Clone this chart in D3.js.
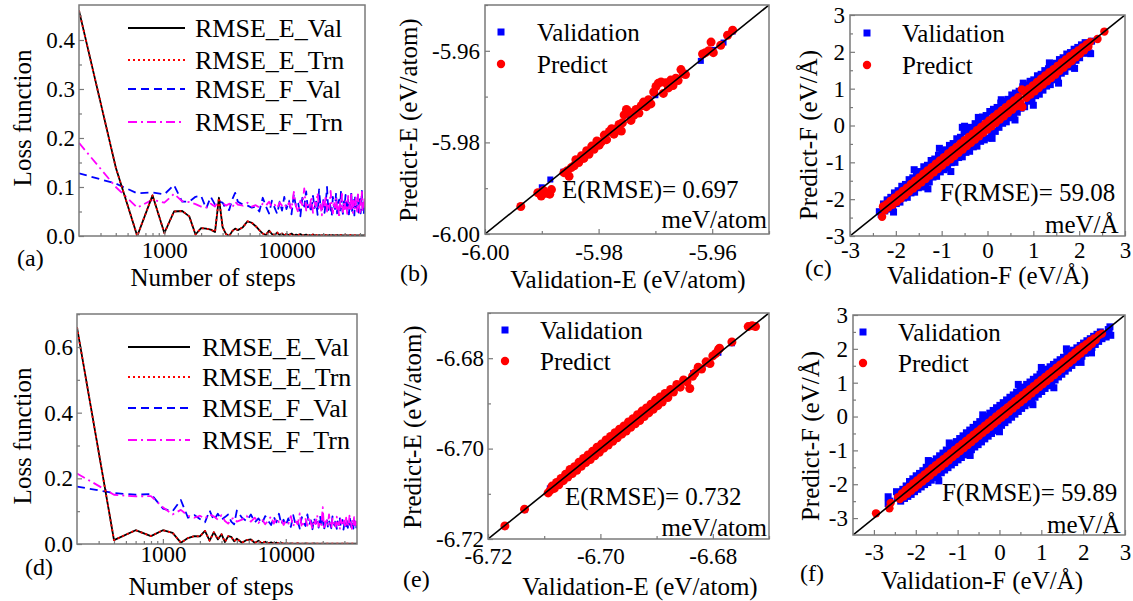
<!DOCTYPE html>
<html><head><meta charset="utf-8">
<script src="https://cdn.jsdelivr.net/npm/d3@7"></script>
<style>
body{margin:0;background:#fff}
svg text{font-family:"Liberation Serif","Times New Roman",serif;fill:#000}
</style>
</head><body>
<svg id="fig" width="1133" height="601"></svg>
<script>
// ---------- training history (loss vs. step) ----------
const steps = [200,400,600,800,1000,1200,1400,1600,1800,2000,
  2200,2400,2600,2800,3000,3200,3400,3600,3800,4000,
  4400,4800,5200,5600,6000,6400,6800,7200,7600,8000,
  8400,8800,9200,9600,10000,
  10500,11000,11500,12000,12500,13000,13500,14000,14500,15000,
  15500,16000,16500,17000,17500,18000,18500,19000,19500,20000,
  20500,21000,21500,22000,22500,23000,23500,24000,24500,25000,
  25500,26000,26500,27000,27500,28000,28500,29000,29500,30000,
  30500,31000,31500,32000,32500,33000,33500,34000,34500,35000,
  35500,36000,36500,37000,37500,38000,
  38500,39000,39500,40000,40500,41000,41500,42000,42500,43000,43500,44000];

const eValA = [0.460,0.140,0.000,0.083,0.006,0.050,0.051,0.040,0.003,0.016,
  0.015,0.013,0.008,0.078,0.018,0.004,0.000,0.010,0.015,0.012,
  0.018,0.030,0.027,0.020,0.012,0.005,0.002,0.011,0.004,0.002,
  0.007,0.002,0.005,0.001,0.004,
  0.002,0.005,0.001,0.003,0.002,0.004,0.001,0.002,0.003,0.001,
  0.002,0.001,0.003,0.001,0.002,0.001,0.002,0.001,0.001,0.002,
  0.001,0.002,0.001,0.001,0.002,0.001,0.001,0.002,0.001,0.001,
  0.001,0.002,0.001,0.001,0.001,0.002,0.001,0.001,0.001,0.001,
  0.002,0.001,0.001,0.001,0.001,0.001,0.002,0.001,0.001,0.001,
  0.001,0.001,0.001,0.001,0.001,0.001,0.001,0.001,0.001,0.001,
  0.001,0.001,0.001,0.001,0.001,0.001,0.001,0.001];
const eTrnA = [0.460,0.140,0.000,0.083,0.006,0.050,0.051,0.040,0.003,0.016,
  0.015,0.013,0.008,0.078,0.018,0.004,0.000,0.010,0.015,0.012,
  0.018,0.030,0.027,0.020,0.012,0.005,0.002,0.011,0.004,0.002,
  0.007,0.002,0.005,0.001,0.004,
  0.002,0.005,0.001,0.003,0.002,0.004,0.001,0.002,0.003,0.001,
  0.002,0.001,0.003,0.001,0.002,0.001,0.002,0.001,0.001,0.002,
  0.001,0.002,0.001,0.001,0.002,0.001,0.001,0.002,0.001,0.001,
  0.001,0.002,0.001,0.001,0.001,0.002,0.001,0.001,0.001,0.001,
  0.002,0.001,0.001,0.001,0.001,0.001,0.002,0.001,0.001,0.001,
  0.001,0.001,0.001,0.001,0.001,0.001,0.001,0.001,0.001,0.001,
  0.001,0.001,0.001,0.001,0.001,0.001,0.001,0.001];
const fValA = [0.128,0.107,0.087,0.089,0.085,0.104,0.070,0.070,0.080,0.082,
  0.056,0.080,0.064,0.070,0.068,0.055,0.053,0.075,0.088,0.070,
  0.064,0.062,0.058,0.060,0.050,0.078,0.060,0.046,0.072,0.058,
  0.045,0.070,0.052,0.080,0.055,
  0.072,0.044,0.085,0.058,0.066,0.040,0.078,0.060,0.091,0.052,
  0.063,0.048,0.082,0.057,0.070,0.043,0.095,0.061,0.054,0.076,
  0.047,0.068,0.100,0.050,0.072,0.058,0.041,0.080,0.062,0.055,
  0.088,0.046,0.066,0.074,0.052,0.093,0.058,0.045,0.070,0.063,
  0.084,0.049,0.061,0.078,0.044,0.067,0.057,0.090,0.051,0.064,
  0.073,0.042,0.081,0.059,0.068,0.053,0.087,0.048,0.066,0.075,
  0.046,0.062,0.092,0.055,0.070,0.044,0.064,0.058];
const fTrnA = [0.190,0.100,0.058,0.074,0.068,0.086,0.071,0.069,0.065,0.060,
  0.058,0.066,0.060,0.073,0.068,0.062,0.066,0.058,0.070,0.064,
  0.062,0.068,0.060,0.063,0.058,0.066,0.062,0.070,0.060,0.064,
  0.057,0.068,0.062,0.066,0.058,
  0.068,0.055,0.090,0.060,0.048,0.072,0.063,0.097,0.052,0.066,
  0.058,0.080,0.047,0.069,0.061,0.088,0.054,0.064,0.042,0.075,
  0.059,0.083,0.050,0.067,0.056,0.092,0.061,0.046,0.071,0.058,
  0.079,0.052,0.065,0.037,0.070,0.060,0.086,0.049,0.068,0.055,
  0.074,0.061,0.045,0.082,0.057,0.066,0.051,0.089,0.059,0.047,
  0.072,0.063,0.054,0.078,0.060,0.050,0.085,0.058,0.066,0.044,
  0.073,0.061,0.090,0.053,0.068,0.057,0.075,0.062];

const eValD = [0.660,0.012,0.042,0.024,0.042,0.034,0.004,0.018,0.024,0.023,
  0.040,0.010,0.036,0.014,0.030,0.006,0.024,0.022,0.008,0.016,
  0.004,0.012,0.014,0.003,0.010,0.002,0.007,0.002,0.005,0.001,
  0.004,0.001,0.003,0.001,0.002,
  0.001,0.002,0.001,0.001,0.002,0.001,0.001,0.001,0.002,0.001,
  0.001,0.001,0.001,0.002,0.001,0.001,0.001,0.001,0.001,0.001,
  0.001,0.001,0.001,0.001,0.001,0.001,0.001,0.001,0.001,0.001,
  0.001,0.001,0.001,0.001,0.001,0.001,0.001,0.001,0.001,0.001,
  0.001,0.001,0.001,0.001,0.001,0.001,0.001,0.001,0.001,0.001,
  0.001,0.001,0.001,0.001,0.001,0.001];
const eTrnD = [0.660,0.012,0.042,0.024,0.042,0.034,0.004,0.018,0.024,0.023,
  0.040,0.010,0.036,0.014,0.030,0.006,0.024,0.022,0.008,0.016,
  0.004,0.012,0.014,0.003,0.010,0.002,0.007,0.002,0.005,0.001,
  0.004,0.001,0.003,0.001,0.002,
  0.001,0.002,0.001,0.001,0.002,0.001,0.001,0.001,0.002,0.001,
  0.001,0.001,0.001,0.002,0.001,0.001,0.001,0.001,0.001,0.001,
  0.001,0.001,0.001,0.001,0.001,0.001,0.001,0.001,0.001,0.001,
  0.001,0.001,0.001,0.001,0.001,0.001,0.001,0.001,0.001,0.001,
  0.001,0.001,0.001,0.001,0.001,0.001,0.001,0.001,0.001,0.001,
  0.001,0.001,0.001,0.001,0.001,0.001];
const fValD = [0.175,0.155,0.150,0.152,0.108,0.100,0.134,0.080,0.088,0.076,
  0.066,0.102,0.072,0.092,0.074,0.082,0.090,0.068,0.060,0.102,
  0.080,0.070,0.090,0.066,0.078,0.062,0.085,0.070,0.058,0.082,
  0.066,0.092,0.060,0.074,0.056,
  0.078,0.052,0.088,0.061,0.070,0.047,0.082,0.064,0.055,0.090,
  0.058,0.072,0.045,0.080,0.062,0.068,0.050,0.086,0.057,0.074,
  0.043,0.066,0.079,0.053,0.071,0.060,0.048,0.084,0.063,0.056,
  0.076,0.046,0.069,0.058,0.081,0.051,0.065,0.073,0.044,0.062,
  0.070,0.054,0.078,0.049,0.066,0.059,0.083,0.052,0.068,0.061,
  0.047,0.072,0.057,0.064,0.050,0.069];
const fTrnD = [0.215,0.150,0.145,0.146,0.112,0.090,0.104,0.086,0.080,0.086,
  0.078,0.090,0.084,0.074,0.088,0.070,0.062,0.076,0.080,0.068,
  0.074,0.086,0.068,0.080,0.064,0.076,0.060,0.072,0.084,0.062,
  0.078,0.066,0.074,0.058,0.070,
  0.062,0.085,0.054,0.071,0.060,0.093,0.050,0.068,0.076,0.056,
  0.082,0.064,0.047,0.074,0.061,0.088,0.053,0.069,0.058,0.112,
  0.045,0.066,0.072,0.055,0.090,0.060,0.049,0.077,0.063,0.070,
  0.052,0.083,0.059,0.067,0.044,0.075,0.062,0.072,0.056,0.071,
  0.048,0.080,0.061,0.068,0.054,0.086,0.058,0.065,0.046,0.074,
  0.060,0.082,0.052,0.069,0.063,0.057];

const lossNames = ["RMSE_E_Val","RMSE_E_Trn","RMSE_F_Val","RMSE_F_Trn"];
const lossTicksA = [0.0,0.1,0.2,0.3,0.4];
const lossTicksD = [0.0,0.2,0.4,0.6];
const stepTicks = [1000,10000];

// ---------- parity data: energies (eV/atom) ----------
const eValB = [[-5.9937,-5.9939],[-5.9900,-5.9898],[-5.9885,-5.9881],[-5.9862,-5.9864],[-5.9840,-5.9838],
  [-5.9815,-5.9817],[-5.9790,-5.9788],[-5.9765,-5.9768],[-5.9745,-5.9742],[-5.9720,-5.9722],[-5.9700,-5.9697],
  [-5.9675,-5.9677],[-5.9650,-5.9648],[-5.9620,-5.9622],[-5.9598,-5.9598],[-5.9580,-5.9582],[-5.9564,-5.9558]];
const ePredB = [[-5.9937,-5.9940],[-5.9907,-5.9910],
  [-5.9901,-5.9917],[-5.9897,-5.9905],[-5.9893,-5.9911],[-5.9886,-5.9913],[-5.9883,-5.9903],
  [-5.9861,-5.9866],[-5.9855,-5.9862],[-5.9852,-5.9874],[-5.9848,-5.9855],[-5.9843,-5.9851],[-5.9840,-5.9838],
  [-5.9835,-5.9844],[-5.9830,-5.9829],[-5.9826,-5.9835],[-5.9821,-5.9818],[-5.9817,-5.9826],[-5.9812,-5.9808],
  [-5.9808,-5.9815],[-5.9803,-5.9797],[-5.9799,-5.9806],[-5.9795,-5.9799],[-5.9790,-5.9784],[-5.9786,-5.9794],
  [-5.9781,-5.9776],[-5.9777,-5.9770],[-5.9773,-5.9782],[-5.9768,-5.9770],[-5.9764,-5.9761],[-5.9760,-5.9775],
  [-5.9758,-5.9757],[-5.9755,-5.9740],[-5.9751,-5.9728],[-5.9747,-5.9733],[-5.9743,-5.9752],[-5.9738,-5.9741],
  [-5.9734,-5.9728],[-5.9729,-5.9736],[-5.9725,-5.9720],[-5.9721,-5.9712],[-5.9716,-5.9722],[-5.9712,-5.9707],
  [-5.9708,-5.9716],[-5.9703,-5.9690],[-5.9699,-5.9678],[-5.9695,-5.9671],[-5.9690,-5.9668],[-5.9686,-5.9693],
  [-5.9682,-5.9670],[-5.9677,-5.9681],[-5.9673,-5.9664],[-5.9669,-5.9676],[-5.9664,-5.9660],[-5.9660,-5.9665],
  [-5.9655,-5.9641],[-5.9651,-5.9650],[-5.9647,-5.9652],[-5.9617,-5.9607],[-5.9612,-5.9604],[-5.9606,-5.9600],
  [-5.9602,-5.9581],[-5.9598,-5.9604],[-5.9585,-5.9588],[-5.9573,-5.9566],[-5.9564,-5.9555]];

const eValE = [[-6.7170,-6.7172],[-6.7135,-6.7136],[-6.7090,-6.7088],[-6.7060,-6.7063],[-6.7040,-6.7036],
  [-6.7012,-6.7015],[-6.6985,-6.6982],[-6.6955,-6.6957],[-6.6930,-6.6928],[-6.6905,-6.6907],[-6.6880,-6.6878],
  [-6.6858,-6.6860],[-6.6835,-6.6833],[-6.6810,-6.6812],[-6.6790,-6.6788],[-6.6766,-6.6767],[-6.6728,-6.6729]];
const ePredE = [[-6.7170,-6.7171],[-6.7135,-6.7134],
  [-6.7093,-6.7098],[-6.7089,-6.7092],[-6.7086,-6.7083],[-6.7082,-6.7088],[-6.7078,-6.7075],[-6.7074,-6.7080],
  [-6.7070,-6.7066],[-6.7066,-6.7071],[-6.7062,-6.7057],[-6.7058,-6.7063],[-6.7054,-6.7046],[-6.7050,-6.7055],
  [-6.7046,-6.7040],[-6.7042,-6.7048],[-6.7038,-6.7030],[-6.7034,-6.7039],[-6.7030,-6.7022],[-6.7026,-6.7031],
  [-6.7022,-6.7014],[-6.7018,-6.7024],[-6.7014,-6.7006],[-6.7010,-6.7016],[-6.7006,-6.6997],[-6.7002,-6.7008],
  [-6.6998,-6.6990],[-6.6994,-6.6999],[-6.6990,-6.6981],[-6.6986,-6.6992],[-6.6982,-6.6973],[-6.6978,-6.6984],
  [-6.6974,-6.6965],[-6.6970,-6.6976],[-6.6966,-6.6957],[-6.6962,-6.6968],[-6.6958,-6.6950],[-6.6954,-6.6961],
  [-6.6950,-6.6941],[-6.6946,-6.6953],[-6.6942,-6.6934],[-6.6938,-6.6945],[-6.6934,-6.6925],[-6.6930,-6.6938],
  [-6.6926,-6.6917],[-6.6922,-6.6929],[-6.6918,-6.6910],[-6.6914,-6.6921],[-6.6910,-6.6902],[-6.6906,-6.6913],
  [-6.6902,-6.6893],[-6.6898,-6.6905],[-6.6894,-6.6886],[-6.6890,-6.6897],[-6.6885,-6.6878],[-6.6880,-6.6887],
  [-6.6875,-6.6869],[-6.6870,-6.6875],[-6.6864,-6.6858],[-6.6858,-6.6864],[-6.6852,-6.6848],[-6.6846,-6.6852],
  [-6.6841,-6.6867],[-6.6836,-6.6840],[-6.6832,-6.6833],[-6.6826,-6.6820],[-6.6820,-6.6824],[-6.6812,-6.6808],
  [-6.6805,-6.6812],[-6.6800,-6.6795],[-6.6795,-6.6790],[-6.6790,-6.6781],[-6.6788,-6.6778],[-6.6766,-6.6764],
  [-6.6737,-6.6730],[-6.6730,-6.6728],[-6.6724,-6.6730]];

// ---------- parity data: forces (eV/Å) ----------
const fValC = [[-2.36,-2.34],[-2.32,-2.42],[-2.27,-2.13],[-2.24,-2.32],[-2.19,-2.02],[-2.15,-2.27],[-2.11,-1.95],
  [-2.07,-2.22],[-2.05,-2.35],[-2.03,-1.83],[-1.99,-2.12],[-1.95,-1.77],[-1.91,-2.08],[-1.87,-1.65],[-1.83,-1.97],
  [-1.79,-1.60],[-1.75,-1.95],[-1.71,-1.47],[-1.67,-1.83],[-1.63,-1.42],[-1.60,-1.20],[-1.59,-1.81],[-1.55,-1.29],
  [-1.51,-1.69],[-1.47,-1.25],[-1.43,-1.67],[-1.39,-1.12],[-1.35,-1.55],[-1.31,-1.08],[-1.30,-1.72],[-1.27,-1.53],
  [-1.23,-0.95],[-1.19,-1.40],[-1.15,-0.91],[-1.11,-1.38],[-1.07,-0.81],[-1.05,-0.62],[-1.03,-1.26],[-0.99,-0.69],
  [-0.95,-1.20],[-0.91,-0.66],[-0.87,-1.15],[-0.83,-0.54],[-0.80,-1.25],[-0.79,-1.01],[-0.75,-0.49],[-0.71,-1.00],
  [-0.67,-0.36],[-0.63,-0.87],[-0.59,-0.32],[-0.55,-0.05],[-0.55,-0.85],[-0.51,-0.18],[-0.50,-0.02],[-0.47,-0.73],
  [-0.43,-0.15],[-0.39,-0.70],[-0.35,-0.05],[-0.31,-0.58],[-0.27,0.05],[-0.23,-0.56],[-0.20,0.22],[-0.19,0.10],
  [-0.15,-0.43],[-0.11,0.23],[-0.07,-0.39],[-0.03,0.27],[0.01,-0.34],[0.05,0.38],[0.09,-0.20],[0.10,-0.35],
  [0.13,0.44],[0.17,-0.16],[0.21,0.49],[0.25,-0.05],[0.29,0.61],[0.30,0.70],[0.33,0.06],[0.37,0.66],[0.41,0.10],
  [0.45,0.71],[0.49,0.21],[0.53,0.83],[0.57,0.32],[0.60,0.15],[0.61,0.88],[0.65,0.36],[0.69,0.93],[0.73,0.47],
  [0.77,1.05],[0.78,1.15],[0.81,0.51],[0.85,1.10],[0.89,0.66],[0.93,1.20],[0.97,0.70],[1.00,0.55],[1.01,1.24],
  [1.05,0.81],[1.09,1.35],[1.13,0.85],[1.17,1.39],[1.21,0.96],[1.25,1.49],[1.29,1.07],[1.33,1.54],[1.35,1.70],
  [1.37,1.11],[1.41,1.64],[1.45,1.24],[1.49,1.69],[1.53,1.29],[1.55,1.15],[1.57,1.79],[1.61,1.42],[1.65,1.84],
  [1.69,1.47],[1.73,1.94],[1.77,1.59],[1.81,1.98],[1.85,1.65],[1.89,2.07],[1.90,1.55],[1.93,1.77],[1.97,2.12],
  [2.01,1.84],[2.05,2.19],[2.09,1.96],[2.13,2.25],[2.17,2.07],[2.22,1.97],[2.25,1.95],[2.27,2.29]];
const fPredC = [[-2.30,-2.48],[-2.28,-2.20],[-2.24,-2.30],[-2.20,-2.14],[-2.16,-2.22],[-2.12,-2.05],[-2.07,-2.15],
  [-2.03,-1.96],[-1.98,-2.07],[-1.94,-1.87],[-1.89,-1.98],[-1.85,-1.78],[-1.80,-1.89],[-1.76,-1.69],[-1.71,-1.80],
  [-1.67,-1.59],[-1.62,-1.71],[-1.58,-1.50],[-1.53,-1.63],[-1.49,-1.41],[-1.44,-1.54],[-1.40,-1.31],[-1.35,-1.45],
  [-1.31,-1.22],[-1.26,-1.36],[-1.22,-1.13],[-1.17,-1.27],[-1.13,-1.04],[-1.08,-1.18],[-1.04,-0.95],[-0.99,-1.09],
  [-0.95,-0.86],[-0.90,-1.00],[-0.86,-0.76],[-0.81,-0.92],[-0.77,-0.67],[-0.72,-0.83],[-0.68,-0.58],[-0.63,-0.74],
  [-0.59,-0.49],[-0.54,-0.65],[-0.50,-0.40],[-0.45,-0.56],[-0.41,-0.31],[-0.36,-0.47],[-0.32,-0.22],[-0.27,-0.38],
  [-0.23,-0.13],[-0.18,-0.29],[-0.14,-0.04],[-0.09,-0.20],[-0.05,0.05],[0.00,-0.11],[0.04,0.14],[0.09,-0.02],
  [0.13,0.23],[0.18,0.07],[0.22,0.32],[0.27,0.16],[0.31,0.41],[0.36,0.25],[0.40,0.50],[0.45,0.34],[0.49,0.59],
  [0.54,0.43],[0.58,0.68],[0.63,0.52],[0.67,0.77],[0.72,0.61],[0.76,0.50],[0.75,0.98],[0.81,0.91],[0.85,0.75],
  [0.90,1.00],[0.94,0.84],[0.99,1.09],[1.03,0.93],[1.08,1.18],[1.12,1.02],[1.17,1.27],[1.21,1.11],[1.26,1.36],
  [1.30,1.20],[1.35,1.45],[1.39,1.29],[1.44,1.53],[1.48,1.38],[1.53,1.62],[1.57,1.48],[1.62,1.71],[1.66,1.57],
  [1.71,1.79],[1.75,1.66],[1.80,1.88],[1.84,1.75],[1.89,1.96],[1.93,1.85],[1.98,2.04],[2.02,1.95],[2.07,2.12],
  [2.11,2.04],[2.16,2.20],[2.20,2.14],[2.24,2.27],[2.40,2.35],[2.55,2.55]];

const fValF = [[-2.66,-2.57],[-2.66,-2.37],[-2.62,-2.50],[-2.46,-2.22],[-2.44,-2.40],[-2.40,-2.28],[-2.36,-2.50],
  [-2.31,-2.15],[-2.27,-2.42],[-2.23,-2.05],[-2.19,-2.36],[-2.15,-1.92],[-2.11,-2.30],[-2.07,-1.84],[-2.03,-2.22],
  [-1.99,-1.75],[-1.95,-2.15],[-1.91,-1.68],[-1.87,-2.08],[-1.83,-1.60],[-1.79,-2.01],[-1.75,-1.50],[-1.71,-1.95],
  [-1.70,-1.30],[-1.67,-1.42],[-1.63,-1.88],[-1.59,-1.33],[-1.55,-1.80],[-1.51,-1.25],[-1.47,-1.73],[-1.45,-1.90],
  [-1.43,-1.16],[-1.39,-1.66],[-1.35,-1.08],[-1.31,-1.58],[-1.27,-0.99],[-1.23,-1.51],[-1.20,-0.78],[-1.19,-0.91],
  [-1.15,-1.43],[-1.11,-0.82],[-1.07,-1.36],[-1.03,-0.74],[-0.99,-1.28],[-0.95,-0.65],[-0.91,-1.21],[-0.87,-0.57],
  [-0.83,-1.13],[-0.79,-0.48],[-0.75,-1.06],[-0.71,-0.40],[-0.70,-1.15],[-0.67,-0.98],[-0.63,-0.32],[-0.59,-0.90],
  [-0.55,-0.23],[-0.51,-0.83],[-0.47,-0.15],[-0.43,-0.75],[-0.40,0.05],[-0.39,-0.07],[-0.35,-0.66],[-0.31,0.01],
  [-0.27,-0.58],[-0.23,0.10],[-0.19,-0.50],[-0.15,0.18],[-0.11,-0.42],[-0.07,0.26],[-0.03,-0.34],[0.00,-0.45],
  [0.01,0.33],[0.05,-0.26],[0.09,0.41],[0.13,-0.18],[0.17,0.49],[0.21,-0.10],[0.25,0.57],[0.29,-0.02],
  [0.33,0.64],[0.37,0.07],[0.41,0.72],[0.45,0.95],[0.45,0.15],[0.49,0.79],[0.53,0.24],[0.57,0.87],[0.61,0.32],
  [0.65,0.95],[0.69,0.40],[0.73,1.02],[0.77,0.49],[0.80,0.35],[0.81,1.10],[0.85,0.57],[0.89,1.17],[0.93,0.66],
  [0.97,1.25],[1.00,1.45],[1.01,0.74],[1.05,1.32],[1.09,0.83],[1.13,1.40],[1.17,0.91],[1.21,1.47],[1.25,1.00],
  [1.29,1.54],[1.30,0.85],[1.33,1.08],[1.37,1.61],[1.41,1.17],[1.45,1.68],[1.49,1.25],[1.53,1.75],[1.57,1.34],
  [1.60,2.00],[1.61,1.82],[1.65,1.43],[1.69,1.89],[1.73,1.51],[1.77,1.96],[1.81,1.60],[1.85,2.03],[1.89,1.69],
  [1.93,2.10],[1.95,1.60],[1.97,1.78],[2.01,2.17],[2.05,1.87],[2.09,2.24],[2.13,1.96],[2.17,2.30],[2.20,1.88],
  [2.21,2.04],[2.25,2.37],[2.29,2.13],[2.33,2.43],[2.37,2.22],[2.41,2.50],[2.45,2.30],[2.55,2.35],[2.60,2.57],
  [2.62,2.47],[2.64,2.65],[2.66,2.40]];
const fPredF = [[-2.95,-2.86],[-2.63,-2.71],[-2.60,-2.55],[-2.42,-2.38],[-2.38,-2.44],[-2.33,-2.27],[-2.29,-2.36],
  [-2.24,-2.17],[-2.20,-2.28],[-2.15,-2.08],[-2.11,-2.19],[-2.06,-1.98],[-2.02,-2.10],[-1.97,-1.89],[-1.93,-2.01],
  [-1.88,-1.80],[-1.84,-1.92],[-1.79,-1.71],[-1.75,-1.83],[-1.70,-1.62],[-1.66,-1.74],[-1.61,-1.53],[-1.57,-1.65],
  [-1.52,-1.44],[-1.48,-1.56],[-1.43,-1.35],[-1.39,-1.47],[-1.34,-1.26],[-1.30,-1.38],[-1.25,-1.17],[-1.21,-1.29],
  [-1.16,-1.08],[-1.12,-1.20],[-1.07,-0.99],[-1.03,-1.11],[-0.98,-0.90],[-0.94,-1.02],[-0.89,-0.81],[-0.85,-0.93],
  [-0.80,-0.72],[-0.76,-0.84],[-0.71,-0.63],[-0.67,-0.75],[-0.62,-0.54],[-0.58,-0.66],[-0.53,-0.45],[-0.49,-0.57],
  [-0.44,-0.36],[-0.40,-0.48],[-0.35,-0.27],[-0.31,-0.39],[-0.26,-0.18],[-0.22,-0.30],[-0.17,-0.09],[-0.13,-0.21],
  [-0.08,0.00],[-0.04,-0.12],[0.01,0.09],[0.05,-0.03],[0.10,0.18],[0.14,0.06],[0.19,0.27],[0.23,0.15],[0.28,0.36],
  [0.32,0.24],[0.37,0.45],[0.41,0.33],[0.46,0.54],[0.50,0.42],[0.55,0.63],[0.59,0.51],[0.64,0.72],[0.68,0.60],
  [0.73,0.81],[0.77,0.69],[0.82,0.90],[0.86,0.78],[0.91,0.99],[0.95,0.87],[1.00,1.08],[1.04,0.96],[1.09,1.17],
  [1.13,1.05],[1.18,1.26],[1.22,1.14],[1.27,1.35],[1.31,1.23],[1.36,1.44],[1.40,1.32],[1.45,1.53],[1.49,1.41],
  [1.54,1.62],[1.58,1.50],[1.63,1.71],[1.67,1.59],[1.72,1.80],[1.76,1.68],[1.81,1.89],[1.85,1.77],[1.90,1.98],
  [1.94,1.86],[1.99,2.06],[2.03,1.96],[2.08,2.14],[2.12,2.05],[2.17,2.23],[2.21,2.15],[2.26,2.31],[2.30,2.26],
  [2.38,2.41],[2.45,2.45]];

const eTicksB = [-6.00,-5.98,-5.96];
const eTicksE = [-6.72,-6.70,-6.68];
const fTicks = [-3,-2,-1,0,1,2,3];
const scatterNames = ["Validation","Predict"];

// ---------- drawing ----------
const svg = d3.select("#fig");
const FONT = "Liberation Serif, Times New Roman, serif";
const FRAME = "#7a7a7a";
const TICK_FS = 23;

function txt(x, y, s, size, anchor, rot) {
  const t = svg.append("text").attr("x", x).attr("y", y).attr("font-size", size)
    .attr("text-anchor", anchor || "start").text(s);
  if (rot) t.attr("transform", `rotate(${rot},${x},${y})`);
  return t;
}

function styleAxis(g) {
  g.attr("font-family", FONT).attr("font-size", TICK_FS);
  g.select(".domain").remove();
  g.selectAll(".tick line").attr("stroke", FRAME).attr("stroke-width", 1.2);
  g.selectAll(".tick text").attr("fill", "#000");
}

function frame(b) {
  svg.append("rect").attr("x", b.left).attr("y", b.top)
    .attr("width", b.right - b.left).attr("height", b.bottom - b.top)
    .attr("fill", "none").attr("stroke", FRAME).attr("stroke-width", 1.5);
}

function clip(id, b) {
  svg.append("clipPath").attr("id", id).append("rect")
    .attr("x", b.left).attr("y", b.top).attr("width", b.right - b.left).attr("height", b.bottom - b.top);
  return `url(#${id})`;
}

const lossStyles = [
  {color: "#000000", dash: null, w: 1.8},
  {color: "#ff0000", dash: "2,3", w: 1.8},
  {color: "#0000ff", dash: "8,5", w: 1.8},
  {color: "#ff00ff", dash: "9,4,2,4", w: 1.8}
];

function lossPanel(c) {
  const x = d3.scaleLog().domain(c.xDomain).range([c.left, c.right]);
  const y = d3.scaleLinear().domain([0, c.yMax]).range([c.bottom, c.top]);
  const cp = clip("clip-" + c.id, c);
  const line = d3.line().x((d, i) => x(steps[i])).y(d => y(d));
  // forces first, energies on top
  [2, 3, 0, 1].forEach(k => {
    const st = lossStyles[k];
    svg.append("path").datum(c.series[k]).attr("d", line).attr("fill", "none")
      .attr("stroke", st.color).attr("stroke-width", st.w)
      .attr("stroke-dasharray", st.dash).attr("stroke-linejoin", "round")
      .attr("clip-path", cp);
  });
  const minorX = x.ticks().filter(t => stepTicks.indexOf(t) < 0 && t > c.xDomain[0] && t < c.xDomain[1]);
  styleAxis(svg.append("g").attr("transform", `translate(0,${c.bottom})`)
    .call(d3.axisBottom(x).tickValues(minorX).tickSize(-3).tickFormat("")));
  styleAxis(svg.append("g").attr("transform", `translate(0,${c.bottom})`)
    .call(d3.axisBottom(x).tickValues(stepTicks).tickSize(-5).tickPadding(c.xPad).tickFormat(d3.format("d"))));
  styleAxis(svg.append("g").attr("transform", `translate(${c.left},0)`)
    .call(d3.axisLeft(y).tickValues(c.yMinor).tickSize(-3).tickFormat("")));
  styleAxis(svg.append("g").attr("transform", `translate(${c.left},0)`)
    .call(d3.axisLeft(y).tickValues(c.yTicks).tickSize(-5).tickPadding(4).tickFormat(d => d.toFixed(1))));
  frame(c);
  c.series.forEach((s, k) => {
    const st = lossStyles[k];
    const ly = c.legY[k];
    svg.append("line").attr("x1", c.legX0).attr("x2", c.legX1).attr("y1", ly).attr("y2", ly)
      .attr("stroke", st.color).attr("stroke-width", st.w).attr("stroke-dasharray", st.dash);
    txt(c.legTx, ly + 9, lossNames[k], 26);
  });
  txt(c.titleX, c.titleY, "Number of steps", 25, "middle");
  txt(31, c.ylabY, "Loss function", 25, "middle", -90);
  txt(c.tagX, c.tagY, c.tag, 24);
}

function scatterPanel(c) {
  const x = d3.scaleLinear().domain(c.domain).range([c.left, c.right]);
  const y = d3.scaleLinear().domain(c.domain).range([c.bottom, c.top]);
  const cp = clip("clip-" + c.id, c);
  const g = svg.append("g").attr("clip-path", cp);
  g.selectAll("rect.v").data(c.val).join("rect").attr("class", "v")
    .attr("x", d => x(d[0]) - c.sq / 2).attr("y", d => y(d[1]) - c.sq / 2)
    .attr("width", c.sq).attr("height", c.sq).attr("fill", "#0000ff");
  g.selectAll("circle.p").data(c.pred).join("circle").attr("class", "p")
    .attr("cx", d => x(d[0])).attr("cy", d => y(d[1])).attr("r", c.r).attr("fill", "#ff0000");
  g.append("line").attr("x1", x(c.domain[0])).attr("y1", y(c.domain[0]))
    .attr("x2", x(c.domain[1])).attr("y2", y(c.domain[1]))
    .attr("stroke", "#000").attr("stroke-width", 1.6);
  styleAxis(svg.append("g").attr("transform", `translate(0,${c.bottom})`)
    .call(d3.axisBottom(x).tickValues(c.minor).tickSize(-3).tickFormat("")));
  styleAxis(svg.append("g").attr("transform", `translate(0,${c.bottom})`)
    .call(d3.axisBottom(x).tickValues(c.ticks).tickSize(-5).tickPadding(c.xPad).tickFormat(c.fmt)));
  styleAxis(svg.append("g").attr("transform", `translate(${c.left},0)`)
    .call(d3.axisLeft(y).tickValues(c.minor).tickSize(-3).tickFormat("")));
  styleAxis(svg.append("g").attr("transform", `translate(${c.left},0)`)
    .call(d3.axisLeft(y).tickValues(c.ticks).tickSize(-5).tickPadding(c.yPad).tickFormat(c.fmt)));
  frame(c);
  svg.append("rect").attr("x", c.legX - 3.5).attr("y", c.legY[0] - 3.5).attr("width", 7).attr("height", 7).attr("fill", "#0000ff");
  svg.append("circle").attr("cx", c.legX).attr("cy", c.legY[1]).attr("r", 4.2).attr("fill", "#ff0000");
  txt(c.legTx, c.legY[0] + 8.5, scatterNames[0], 25);
  txt(c.legTx, c.legY[1] + 8.5, scatterNames[1], 25);
  txt(c.noteX, c.noteY, c.note, 25);
  txt(c.unitX, c.unitY, c.unit, 25, c.unitAnchor);
  txt(c.titleX, c.titleY, c.xTitle, 25, "middle");
  txt(c.ylabX, c.ylabY, c.yTitle, 25, "middle", -90);
  txt(c.tagX, c.tagY, c.tag, 24);
}

// (a) and (d): loss curves
lossPanel({id: "a", left: 79, right: 365, top: 5, bottom: 236, xDomain: [200, 44000], yMax: 0.4714,
  series: [eValA, eTrnA, fValA, fTrnA], yTicks: lossTicksA, yMinor: [0.05, 0.15, 0.25, 0.35, 0.45],
  xPad: 6, legX0: 128, legX1: 185, legTx: 195, legY: [28, 60, 89, 122],
  titleX: 213, titleY: 286, ylabY: 118, tag: "(a)", tagX: 17, tagY: 266});
lossPanel({id: "d", left: 77, right: 357, top: 314, bottom: 544, xDomain: [200, 38000], yMax: 0.7005,
  series: [eValD, eTrnD, fValD, fTrnD], yTicks: lossTicksD, yMinor: [0.1, 0.3, 0.5, 0.7],
  xPad: 2, legX0: 128, legX1: 190, legTx: 202, legY: [347, 377, 408, 440],
  titleX: 211, titleY: 595, ylabY: 436, tag: "(d)", tagX: 25, tagY: 575});

// (b) and (e): energy parity
scatterPanel({id: "b", left: 485, right: 769, top: 5, bottom: 234, domain: [-6.00, -5.95],
  val: eValB, pred: ePredB, sq: 6, r: 4.5, ticks: eTicksB, minor: [-5.99, -5.97, -5.95],
  fmt: d => d.toFixed(2), xPad: 10, yPad: 5,
  legX: 501, legY: [32, 64], legTx: 537,
  note: "E(RMSE)= 0.697", noteX: 562, noteY: 198, unit: "meV/atom", unitX: 767, unitY: 228, unitAnchor: "end",
  xTitle: "Validation-E (eV/atom)", titleX: 628, titleY: 288, yTitle: "Predict-E (eV/atom)", ylabX: 417, ylabY: 120,
  tag: "(b)", tagX: 400, tagY: 281});
scatterPanel({id: "e", left: 488, right: 769, top: 313, bottom: 539, domain: [-6.72, -6.67],
  val: eValE, pred: ePredE, sq: 6, r: 4.5, ticks: eTicksE, minor: [-6.71, -6.69, -6.67],
  fmt: d => d.toFixed(2), xPad: 9, yPad: 4,
  legX: 505, legY: [330, 361], legTx: 540,
  note: "E(RMSE)= 0.732", noteX: 565, noteY: 505, unit: "meV/atom", unitX: 767, unitY: 536, unitAnchor: "end",
  xTitle: "Validation-E (eV/atom)", titleX: 640, titleY: 595, yTitle: "Predict-E (eV/atom)", ylabX: 421, ylabY: 427,
  tag: "(e)", tagX: 403, tagY: 587});

// (c) and (f): force parity
scatterPanel({id: "c", left: 850, right: 1125, top: 15, bottom: 236, domain: [-3, 3],
  val: fValC, pred: fPredC, sq: 7, r: 4.2, ticks: fTicks, minor: [-2.5, -1.5, -0.5, 0.5, 1.5, 2.5],
  fmt: d => String(d), xPad: 6, yPad: 5,
  legX: 867, legY: [33, 65], legTx: 902,
  note: "F(RMSE)= 59.08", noteX: 940, noteY: 201, unit: "meV/Å", unitX: 1045, unitY: 233, unitAnchor: "start",
  xTitle: "Validation-F (eV/Å)", titleX: 988, titleY: 284, yTitle: "Predict-F (eV/Å)", ylabX: 817, ylabY: 135,
  tag: "(c)", tagX: 805, tagY: 276});
scatterPanel({id: "f", left: 853, right: 1125, top: 315, bottom: 535, domain: [-3.5, 3],
  val: fValF, pred: fPredF, sq: 7, r: 4.2, ticks: fTicks, minor: [-2.5, -1.5, -0.5, 0.5, 1.5, 2.5],
  fmt: d => String(d), xPad: 9, yPad: 5,
  legX: 863, legY: [332, 363], legTx: 898,
  note: "F(RMSE)= 59.89", noteX: 942, noteY: 501, unit: "meV/Å", unitX: 1047, unitY: 533, unitAnchor: "start",
  xTitle: "Validation-F (eV/Å)", titleX: 982, titleY: 589, yTitle: "Predict-F (eV/Å)", ylabX: 819, ylabY: 436,
  tag: "(f)", tagX: 800, tagY: 581});
</script>
</body></html>
